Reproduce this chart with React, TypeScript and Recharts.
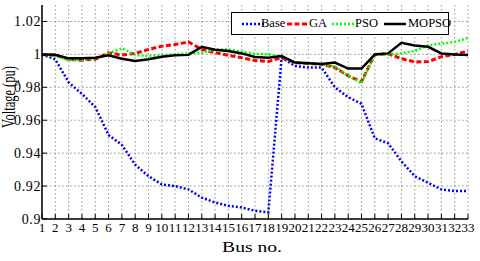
import { LineChart, Line, XAxis, YAxis, CartesianGrid } from "recharts";

// Bus numbers (IEEE 33-bus)
const buses = [
  1, 2, 3, 4, 5, 6, 7, 8, 9, 10, 11, 12, 13, 14, 15, 16, 17, 18, 19, 20, 21,
  22, 23, 24, 25, 26, 27, 28, 29, 30, 31, 32, 33,
];

const baseV = [
  1.0, 0.997, 0.983, 0.976, 0.968, 0.951, 0.945, 0.933, 0.926, 0.921, 0.92,
  0.918, 0.913, 0.91, 0.908, 0.907, 0.905, 0.904, 0.998, 0.993, 0.992, 0.992,
  0.98, 0.974, 0.97, 0.949, 0.946, 0.935, 0.926, 0.922, 0.918, 0.917, 0.917,
];

const gaV = [
  1.0, 0.9995, 0.997, 0.9965, 0.997, 1.001, 0.9996, 1.0006, 1.003, 1.005,
  1.006, 1.0076, 1.003, 1.001, 0.9994, 0.998, 0.9963, 0.9957, 0.998, 0.995,
  0.9945, 0.994, 0.992, 0.987, 0.9835, 1.0, 1.0003, 0.9974, 0.9954, 0.9956,
  0.9986, 1.0, 1.002,
];

const psoV = [
  1.0, 0.999, 0.9964, 0.9964, 0.9976, 1.0004, 1.0038, 0.9996, 0.999, 0.9994,
  1.0, 1.0008, 1.001, 1.003, 1.003, 1.0016, 1.0004, 1.0, 0.9985, 0.9952,
  0.9944, 0.994, 0.9926, 0.987, 0.9825, 1.0, 1.0, 1.0006, 1.002, 1.0054,
  1.0066, 1.0076, 1.01,
];

const mopsoV = [
  1.0, 0.9998, 0.9976, 0.9976, 0.998, 0.9994, 0.9974, 0.996, 0.997, 0.9986,
  0.9994, 0.9997, 1.0046, 1.0028, 1.002, 1.0006, 0.9984, 0.998, 0.999, 0.995,
  0.9946, 0.9942, 0.995, 0.9914, 0.9914, 1.0, 1.0006, 1.007, 1.0054, 1.0046,
  1.0006, 1.0, 0.9996,
];

const yTicks = [0.9, 0.92, 0.94, 0.96, 0.98, 1, 1.02];

const data = buses.map((bus, i) => ({
  bus,
  Base: baseV[i],
  GA: gaV[i],
  PSO: psoV[i],
  MOPSO: mopsoV[i],
}));

const series = [
  { key: "Base", color: "#0000ff", dash: "2 2", width: 2.5 },
  { key: "GA", color: "#ff0000", dash: "5 2.5", width: 3 },
  { key: "PSO", color: "#00ff00", dash: "2 2", width: 2.5 },
  { key: "MOPSO", color: "#000000", dash: undefined, width: 2.5 },
];

const FONT = "Liberation Serif";

const XLabel = () => (
  <text
    transform="translate(252,252) scale(1.4,1)"
    textAnchor="middle"
    style={{ fontFamily: FONT, fontSize: 14, fontWeight: 400 }}
    fill="#000"
  >
    Bus no.
  </text>
);

const YLabel = () => (
  <text
    transform="translate(15,97) scale(1.45,1) rotate(-90)"
    textAnchor="middle"
    style={{ fontFamily: FONT, fontSize: 12.5, fontWeight: 400 }}
    fill="#000"
  >
    Voltage (pu)
  </text>
);

// legend sample/text offsets inside the box
const legendPos = [
  { line: 10, text: 29 },
  { line: 55, text: 77 },
  { line: 100, text: 123 },
  { line: 152, text: 176 },
];

function LegendBox() {
  return (
    <div
      style={{
        position: "absolute",
        left: 231,
        top: 12,
        width: 216,
        height: 21,
        border: "1.5px solid #000",
        background: "#fff",
        fontFamily: FONT,
        fontSize: 12.5,
      }}
    >
      {series.map((s, i) => (
        <div key={s.key}>
          <svg
            width={24}
            height={6}
            style={{ position: "absolute", left: legendPos[i].line, top: 8 }}
          >
            <line
              x1={0}
              y1={3}
              x2={22}
              y2={3}
              stroke={s.color}
              strokeWidth={s.width}
              strokeDasharray={s.dash}
            />
          </svg>
          <span
            style={{
              position: "absolute",
              left: legendPos[i].text,
              top: 2,
              lineHeight: "16px",
            }}
          >
            {s.key}
          </span>
        </div>
      ))}
    </div>
  );
}

export default function App() {
  const xTick = { fill: "#000", style: { fontFamily: FONT, fontSize: 13 } };
  const yTick = { fill: "#000", style: { fontFamily: FONT, fontSize: 14, letterSpacing: 0.6 } };
  return (
    <div style={{ position: "relative", width: 480, height: 261, background: "#fff", fontFamily: FONT }}>
      <style>{`body{margin:0}`}</style>
      <LineChart
        width={480}
        height={261}
        data={data}
        margin={{ top: 5, right: 12, bottom: 0, left: 0 }}
      >
        <CartesianGrid
          stroke="#777"
          strokeWidth={0.8}
          strokeDasharray="1.5 2.5"
          horizontalValues={yTicks}
          verticalValues={buses}
        />
        <XAxis
          dataKey="bus"
          type="number"
          domain={[1, 33]}
          ticks={buses}
          interval={0}
          height={42}
          tickSize={-5}
          tickMargin={9}
          tick={xTick}
          axisLine={{ stroke: "#000", strokeWidth: 1.5 }}
          tickLine={{ stroke: "#000" }}
          label={<XLabel />}
        />
        <XAxis
          xAxisId="top"
          dataKey="bus"
          type="number"
          orientation="top"
          domain={[1, 33]}
          ticks={buses}
          interval={0}
          height={0}
          tickSize={-5}
          tick={false}
          axisLine={{ stroke: "#000", strokeWidth: 1.5 }}
          tickLine={{ stroke: "#000" }}
        />
        <YAxis
          type="number"
          domain={[0.9, 1.03]}
          ticks={yTicks}
          interval={0}
          width={42}
          tickSize={-5}
          tickMargin={6}
          tick={yTick}
          axisLine={{ stroke: "#000", strokeWidth: 1.5 }}
          tickLine={{ stroke: "#000" }}
          allowDataOverflow
          label={<YLabel />}
        />
        <YAxis
          yAxisId="right"
          orientation="right"
          type="number"
          domain={[0.9, 1.03]}
          ticks={yTicks}
          interval={0}
          width={0}
          tickSize={-5}
          tick={false}
          axisLine={{ stroke: "#000", strokeWidth: 1.5 }}
          tickLine={{ stroke: "#000" }}
        />
        {series.map((s) => (
          <Line
            key={s.key}
            dataKey={s.key}
            type="linear"
            stroke={s.color}
            strokeWidth={s.width}
            strokeDasharray={s.dash}
            dot={false}
            activeDot={false}
            isAnimationActive={false}
          />
        ))}
      </LineChart>
      <LegendBox />
    </div>
  );
}
